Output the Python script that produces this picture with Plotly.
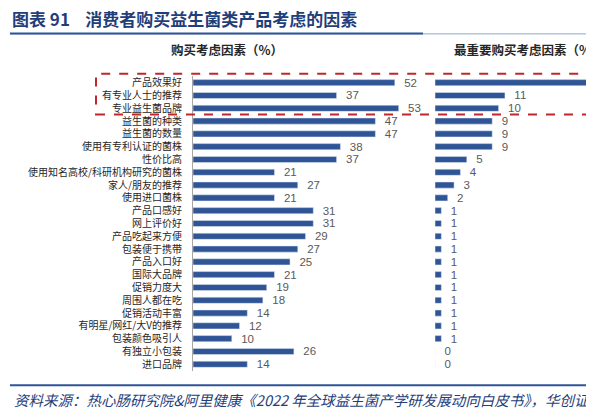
import plotly.graph_objects as go

# 消费者购买益生菌类产品考虑的因素
factors = ["产品效果好", "有专业人士的推荐", "专业益生菌品牌", "益生菌的种类", "益生菌的数量",
           "使用有专利认证的菌株", "性价比高", "使用知名高校/科研机构研究的菌株", "家人/朋友的推荐",
           "使用进口菌株", "产品口感好", "网上评价好", "产品吃起来方便", "包装便于携带", "产品入口好",
           "国际大品牌", "促销力度大", "周围人都在吃", "促销活动丰富", "有明星/网红/大V的推荐",
           "包装颜色吸引人", "有独立小包装", "进口品牌"]
buy_pct = [52, 37, 53, 47, 47, 38, 37, 21, 27, 21, 31, 31, 29, 27, 25, 21, 19, 18, 14, 12, 10, 26, 14]
# first value is cut off at the right edge of the picture, estimated
top_pct = [28, 11, 10, 9, 9, 9, 5, 4, 3, 2, 1, 1, 1, 1, 1, 1, 1, 1, 1, 1, 1, 0, 0]

W, H = 594, 416
OFF = 8  # the page body margin pushes the figure 8px right and down
BAR = "#2f5597"
LBL = "#595959"
NUM_FONT = "Liberation Sans, Arial, sans-serif"
CJK = "Noto Sans CJK SC"


def px(x):
    # screen pixel -> paper x
    return (x - OFF) / W


def py(y):
    # screen pixel -> paper y
    return 1 - (y - OFF) / H


fig = go.Figure()
fig.add_trace(go.Bar(
    x=buy_pct, y=factors, orientation="h", xaxis="x", yaxis="y",
    marker_color=BAR, texttemplate="  %{x}", textposition="outside", constraintext="none",
    textfont=dict(family=NUM_FONT, size=11.5, color=LBL), cliponaxis=False,
))
fig.add_trace(go.Bar(
    x=top_pct, y=factors, orientation="h", xaxis="x2", yaxis="y2",
    marker_color=BAR, texttemplate="  %{x}", textposition="outside", constraintext="none",
    textfont=dict(family=NUM_FONT, size=11.5, color=LBL), cliponaxis=True,
))

ydom = [py(370.4), py(74.6)]
fig.update_layout(
    width=W, height=H, margin=dict(l=0, r=0, t=0, b=0),
    paper_bgcolor="white", plot_bgcolor="white", showlegend=False,
    bargap=0.52,
    xaxis=dict(domain=[px(193), px(415)], range=[0, 57.2], visible=False),
    xaxis2=dict(domain=[px(435), 1.0], range=[0, (W + OFF - 435) / 6.36], visible=False),
    yaxis=dict(domain=ydom, anchor="x", autorange="reversed", showline=True,
               linecolor="#a6a6a6", linewidth=1, ticks="", showgrid=False,
               ticklabelstandoff=8, tickmode="array", tickvals=factors,
               tickfont=dict(family=CJK, size=10, color="#262626")),
    yaxis2=dict(domain=ydom, anchor="x2", matches="y", showticklabels=False,
                showline=False, showgrid=False, ticks=""),
    font=dict(family=CJK),
)

# title and its rule
fig.add_annotation(x=px(10), y=py(17), xref="paper", yref="paper", xanchor="left",
                   yanchor="middle", showarrow=False,
                   text="<b>图表 91    消费者购买益生菌类产品考虑的因素</b>",
                   font=dict(family=CJK, size=17, color="#1f3e7a"))
fig.add_shape(type="line", xref="paper", yref="paper", x0=px(10), x1=1.0,
              y0=py(32), y1=py(32), line=dict(color="#8ea9d1", width=1))
fig.add_shape(type="line", xref="paper", yref="paper", x0=px(10), x1=px(423),
              y0=py(31.5), y1=py(31.5), line=dict(color="#2f5597", width=2))

# panel subtitles
fig.add_annotation(x=px(227), y=py(48), xref="paper", yref="paper", xanchor="center",
                   yanchor="middle", showarrow=False, text="<b>购买考虑因素（%）</b>",
                   font=dict(family=CJK, size=12.5, color="#262626"))
fig.add_annotation(x=px(452), y=py(48), xref="paper", yref="paper", xanchor="left",
                   yanchor="middle", showarrow=False, text="<b>最重要购买考虑因素（%）</b>",
                   font=dict(family=CJK, size=12.5, color="#262626"))

# dashed highlight box around the top three factors
fig.add_shape(type="rect", xref="paper", yref="paper", x0=px(96), x1=1.05,
              y0=py(113), y1=py(72), line=dict(color="#c0272d", width=2, dash="dash"))

# source line
fig.add_shape(type="line", xref="paper", yref="paper", x0=px(10), x1=1.0,
              y0=py(385), y1=py(385), line=dict(color="#2f5597", width=2))
fig.add_annotation(x=px(12), y=py(399), xref="paper", yref="paper", xanchor="left",
                   yanchor="middle", showarrow=False,
                   text="<i>资料来源：热心肠研究院&阿里健康《2022 年全球益生菌产学研发展动向白皮书》，华创证券</i>",
                   font=dict(family=CJK, size=14.5, color="#1f3e7a"))

fig.write_html("out.html")
